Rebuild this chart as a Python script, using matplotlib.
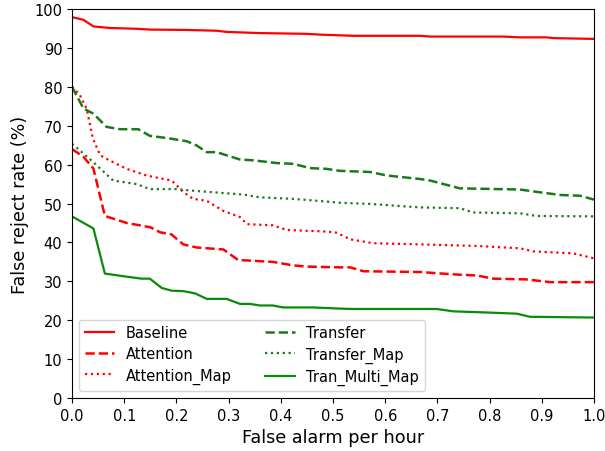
import numpy as np
import matplotlib
matplotlib.use('Agg')
import matplotlib.pyplot as plt

# curves (false alarm per hour, false reject rate %)
baseline_x = [0.0, 0.022, 0.041, 0.073, 0.124, 0.149, 0.22, 0.277, 0.296, 0.36, 0.45, 0.475,
              0.539, 0.667, 0.686, 0.826, 0.858, 0.909, 0.922, 1.0]
baseline_y = [97.9, 97.2, 95.5, 95.1, 94.9, 94.7, 94.6, 94.4, 94.1, 93.8, 93.6, 93.4,
              93.1, 93.1, 92.9, 92.9, 92.7, 92.7, 92.5, 92.3]

attention_x = [0.0, 0.022, 0.041, 0.063, 0.105, 0.15, 0.169, 0.19, 0.213, 0.239, 0.29, 0.318,
               0.385, 0.424, 0.45, 0.513, 0.533, 0.558, 0.667, 0.73, 0.776, 0.807, 0.87,
               0.916, 1.0]
attention_y = [64.0, 62.0, 59.0, 46.8, 45.0, 43.9, 42.6, 42.1, 39.5, 38.7, 38.2, 35.5,
               35.0, 34.1, 33.8, 33.6, 33.6, 32.6, 32.4, 31.8, 31.5, 30.7, 30.5,
               29.8, 29.8]

attention_map_x = [0.0, 0.015, 0.028, 0.04, 0.054, 0.073, 0.105, 0.143, 0.191, 0.213, 0.232,
                   0.258, 0.29, 0.322, 0.335, 0.385, 0.411, 0.488, 0.507, 0.533, 0.577,
                   0.667, 0.775, 0.858, 0.884, 0.96, 1.0]
attention_map_y = [80.0, 77.9, 74.4, 66.7, 62.4, 61.0, 58.9, 57.2, 55.9, 53.0, 51.2,
                   50.7, 48.1, 46.5, 44.7, 44.4, 43.2, 42.8, 42.5, 40.8, 39.8,
                   39.5, 39.1, 38.5, 37.7, 37.2, 35.9]

transfer_x = [0.0, 0.022, 0.041, 0.066, 0.092, 0.127, 0.149, 0.188, 0.22, 0.239, 0.258, 0.277,
              0.322, 0.347, 0.392, 0.424, 0.456, 0.488, 0.513, 0.533, 0.571, 0.603, 0.667,
              0.686, 0.743, 0.858, 0.89, 0.935, 0.973, 1.0]
transfer_y = [80.0, 74.4, 73.1, 69.7, 69.1, 69.1, 67.4, 66.7, 66.0, 64.9, 63.2, 63.2,
              61.3, 61.1, 60.4, 60.2, 59.1, 58.9, 58.4, 58.3, 58.1, 57.2, 56.3,
              55.9, 53.9, 53.6, 53.0, 52.2, 52.0, 51.0]

transfer_map_x = [0.0, 0.041, 0.079, 0.124, 0.149, 0.2, 0.232, 0.27, 0.328, 0.36, 0.424, 0.488,
                  0.513, 0.571, 0.667, 0.743, 0.768, 0.858, 0.89, 1.0]
transfer_map_y = [65.4, 60.6, 55.9, 55.0, 53.7, 53.7, 53.3, 52.9, 52.3, 51.6, 51.2, 50.5,
                  50.2, 49.9, 49.0, 48.8, 47.7, 47.5, 46.8, 46.7]

multi_map_x = [0.0, 0.041, 0.063, 0.105, 0.133, 0.149, 0.172, 0.191, 0.213, 0.236, 0.258, 0.296,
               0.322, 0.341, 0.36, 0.385, 0.404, 0.462, 0.513, 0.539, 0.699, 0.73, 0.794,
               0.852, 0.877, 1.0]
multi_map_y = [46.7, 43.6, 32.0, 31.2, 30.7, 30.7, 28.3, 27.6, 27.5, 26.9, 25.5, 25.5,
               24.2, 24.2, 23.8, 23.8, 23.3, 23.3, 23.0, 22.9, 22.9, 22.3, 22.0,
               21.7, 20.9, 20.7]

fig = plt.figure(figsize=(6.05, 4.52), dpi=100)
ax = fig.add_axes([0.119, 0.117, 0.863, 0.861])

ax.plot(baseline_x, baseline_y, color='#ff0000', linestyle='-', lw=1.6, label='Baseline')
ax.plot(attention_x, attention_y, color='#ff0000', linestyle='--', lw=1.8, label='Attention')
ax.plot(attention_map_x, attention_map_y, color='#ff0000', linestyle=':', lw=1.6, label='Attention_Map')
ax.plot(transfer_x, transfer_y, color='#1a7a1a', linestyle='--', lw=1.8, label='Transfer')
ax.plot(transfer_map_x, transfer_map_y, color='#1a7a1a', linestyle=':', lw=1.6, label='Transfer_Map')
ax.plot(multi_map_x, multi_map_y, color='#0a8a0a', linestyle='-', lw=1.6, label='Tran_Multi_Map')

ax.set_xlim(0, 1.0)
ax.set_ylim(0, 100)
ax.set_xticks(np.arange(0, 1.01, 0.1))
ax.set_yticks(np.arange(0, 101, 10))
ax.tick_params(labelsize=10.5)
ax.set_xlabel('False alarm per hour', fontsize=12.7)
ax.set_ylabel('False reject rate (%)', fontsize=12.7)

ax.legend(loc='lower left', ncol=2, fontsize=10.5, labelspacing=0.42, columnspacing=2.3)

fig.savefig('out.png', dpi=100)
